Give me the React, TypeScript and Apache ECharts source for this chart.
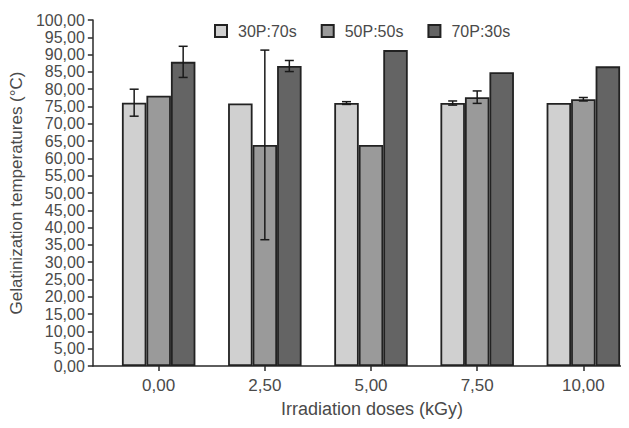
import React, { useEffect, useRef } from "react";
import * as echarts from "echarts";

const categories = ["0,00", "2,50", "5,00", "7,50", "10,00"];
const seriesNames = ["30P:70s", "50P:50s", "70P:30s"];
const values30 = [76.1, 75.9, 76.0, 76.0, 76.0];
const values50 = [78.1, 63.9, 63.9, 77.7, 77.1];
const values70 = [87.9, 86.7, 91.3, 84.9, 86.6];
const errors30 = [3.9, 0, 0.4, 0.6, 0];
const errors50 = [0, 27.4, 0, 1.8, 0.5];
const errors70 = [4.5, 1.6, 0, 0, 0];
const colors = ["#d0d0d0", "#9a9a9a", "#646464"];

const BAR_W = 24.5;

export default function App() {
  const ref = useRef<HTMLDivElement>(null);
  useEffect(() => {
    if (!ref.current) return;
    const chart = echarts.init(ref.current, undefined, { renderer: "svg" });
    const allVals = [values30, values50, values70];
    const allErr = [errors30, errors50, errors70];
    const barSeries = allVals.map((vals, si) => ({
      name: seriesNames[si],
      type: "bar",
      data: vals.map((v, i) => [i, v]),
      barWidth: BAR_W,
      barGap: "0%",
      itemStyle: { color: colors[si], borderColor: "#222222", borderWidth: 1.8 },
      z: 2,
    }));
    const errData: number[][] = [];
    allVals.forEach((vals, si) => {
      vals.forEach((v, i) => {
        const e = allErr[si][i];
        if (e > 0) errData.push([i, v - e, v + e, si]);
      });
    });
    const errSeries = {
      type: "custom",
      name: "err",
      z: 10,
      renderItem: (params: any, api: any) => {
        const x = api.value(0);
        const lo = api.value(1);
        const hi = api.value(2);
        const si = api.value(3);
        const pLo = api.coord([x, lo]);
        const pHi = api.coord([x, hi]);
        const cx = pLo[0] + (si - 1) * BAR_W;
        const hw = 4.5;
        const style = { stroke: "#1a1a1a", lineWidth: 1.5 };
        return {
          type: "group",
          children: [
            { type: "line", shape: { x1: cx, y1: pLo[1], x2: cx, y2: pHi[1] }, style },
            { type: "line", shape: { x1: cx - hw, y1: pLo[1], x2: cx + hw, y2: pLo[1] }, style },
            { type: "line", shape: { x1: cx - hw, y1: pHi[1], x2: cx + hw, y2: pHi[1] }, style },
          ],
        };
      },
      data: errData,
      encode: { x: 0, y: [1, 2] },
      silent: true,
    };
    const textColor = "#4a4a4a";
    chart.setOption({
      animation: false,
      backgroundColor: "#ffffff",
      textStyle: { fontFamily: "Liberation Sans, Arial, sans-serif" },
      legend: {
        data: seriesNames,
        top: 18,
        left: 209,
        itemWidth: 12,
        itemHeight: 12,
        itemGap: 24,
        icon: "rect",
        textStyle: { fontSize: 16, color: textColor, padding: [0, 0, 0, 6] },
      },
      grid: { left: 91, right: 0, top: 20, bottom: 62 },
      xAxis: {
        type: "value",
        min: -0.62,
        max: 4.43,
        name: "Irradiation doses (kGy)",
        nameLocation: "middle",
        nameGap: 34,
        nameTextStyle: { fontSize: 18, color: textColor, padding: [0, 0, 0, 22] },
        splitLine: { show: false },
        axisLine: { show: true, onZero: false, lineStyle: { color: "#2a2a2a", width: 1.5 } },
        axisTick: {
          show: true,
          length: 5,
          customValues: [0, 1, 2, 3, 4],
          lineStyle: { color: "#2a2a2a", width: 1.5 },
        },
        axisLabel: {
          customValues: [0, 1, 2, 3, 4],
          formatter: (v: number) => categories[Math.round(v)] ?? "",
          fontSize: 17,
          color: textColor,
          margin: 11,
        },
      },
      yAxis: {
        type: "value",
        min: 0,
        max: 100,
        interval: 5,
        name: "Gelatinization temperatures (°C)",
        nameLocation: "middle",
        nameGap: 61,
        nameTextStyle: { fontSize: 17, color: textColor },
        splitLine: { show: false },
        axisLine: { show: true, onZero: false, lineStyle: { color: "#2a2a2a", width: 1.5 } },
        axisTick: { show: true, length: 5, lineStyle: { color: "#2a2a2a", width: 1.5 } },
        axisLabel: {
          formatter: (v: number) => v.toFixed(2).replace(".", ","),
          fontSize: 16,
          color: textColor,
          margin: 8,
        },
      },
      series: [...barSeries, errSeries],
    });
    return () => chart.dispose();
  }, []);
  return <div ref={ref} style={{ width: 629, height: 428, margin: -8 }} />;
}
